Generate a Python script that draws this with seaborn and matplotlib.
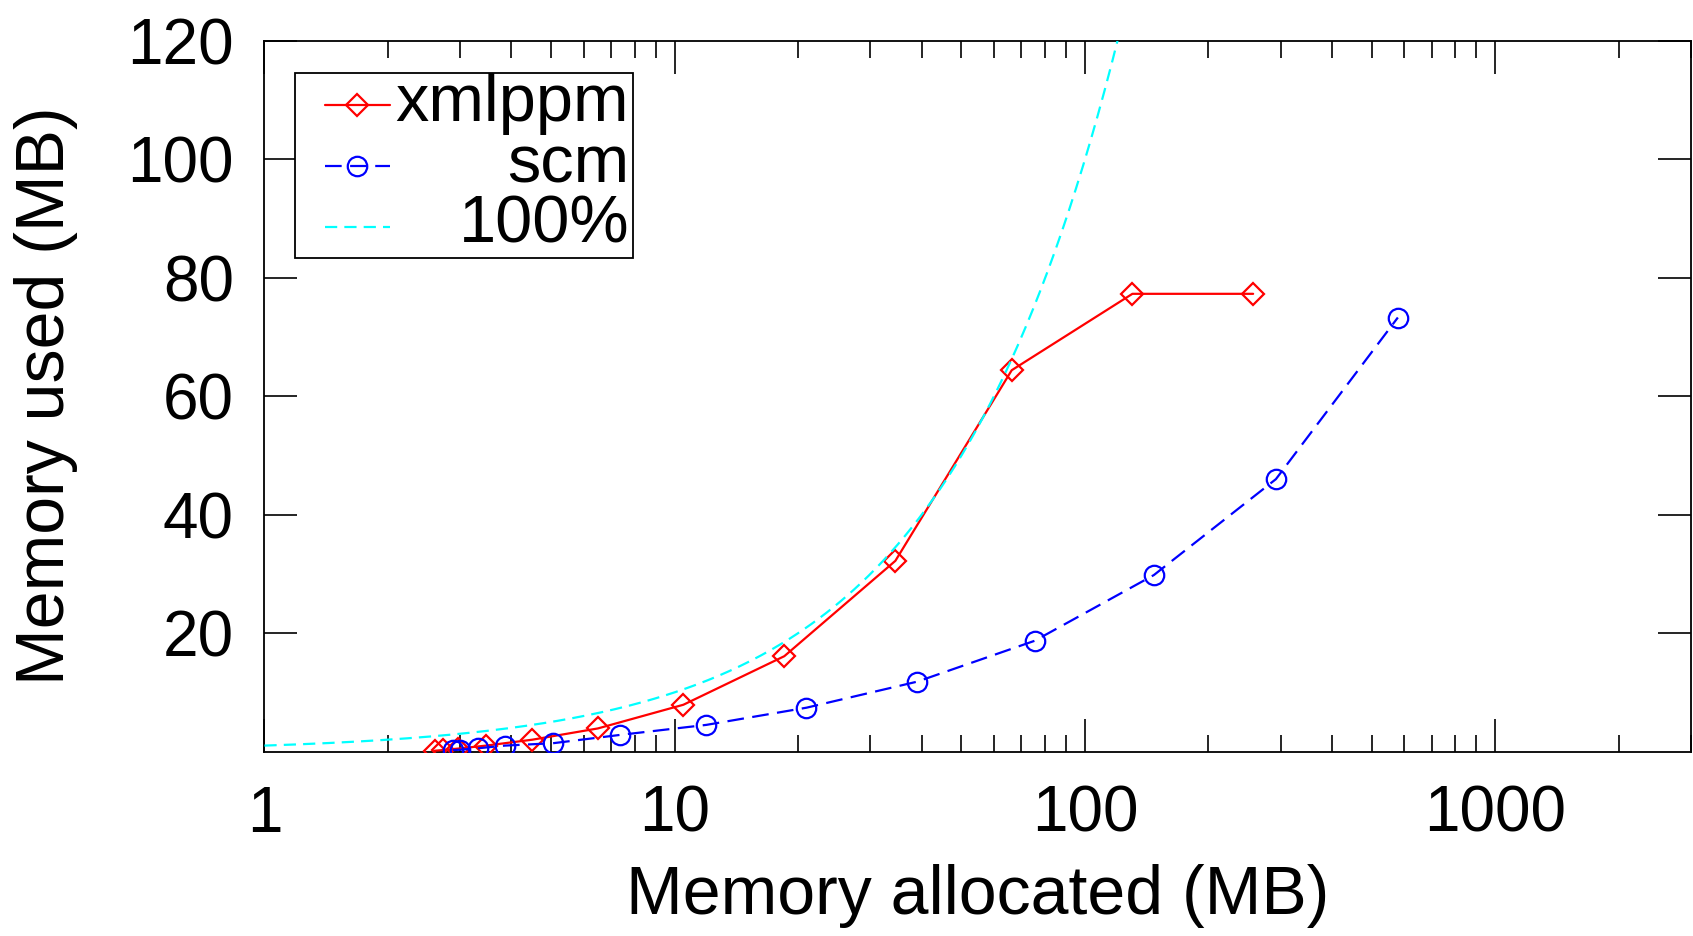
import numpy as np
import pandas as pd
import seaborn as sns
import matplotlib.pyplot as plt
from matplotlib.ticker import LogLocator, NullFormatter, FixedLocator
from matplotlib.patches import Rectangle
from matplotlib.lines import Line2D

# values
xmlppm_alloc = [2.6, 2.72, 2.97, 3.47, 4.5, 6.5, 10.5, 18.5, 34.5, 66.3, 130.5, 257]
xmlppm_used = [0.13, 0.25, 0.5, 1.0, 2.0, 3.9, 7.9, 16.1, 32.2, 64.4, 77.3, 77.3]

scm_alloc = [2.88, 3.0, 3.32, 3.86, 5.05, 7.35, 11.95, 20.95, 39.0, 75.4, 147.2, 292, 579]
scm_used = [0.25, 0.3, 0.55, 1.0, 1.4, 2.8, 4.5, 7.4, 11.8, 18.7, 29.8, 46.0, 73.3]

x_ticks = [1, 10, 100, 1000]
x_tick_labels = ["1", "10", "100", "1000"]
y_ticks = [20, 40, 60, 80, 100, 120]

legend_labels = ["xmlppm", "scm", "100%"]

# 100% reference: used == allocated
ref_alloc = np.logspace(0, np.log10(3000), 400)
ref_used = ref_alloc

sns.set_style("white")
plt.rcParams['font.family'] = ['Liberation Sans', 'DejaVu Sans']
plt.rcParams['text.color'] = 'black'
plt.rcParams['xtick.color'] = 'black'
plt.rcParams['ytick.color'] = 'black'
plt.rcParams['xtick.labelcolor'] = 'black'
plt.rcParams['ytick.labelcolor'] = 'black'

RED = "#ff0000"
BLUE = "#0000ff"
CYAN = "#00ffff"
LW = 1.6

fig = plt.figure(figsize=(16.93, 9.36), dpi=100)
ax = fig.add_axes([0.1562, 0.1971, 0.8426, 0.7591])

df_x = pd.DataFrame({"alloc": xmlppm_alloc, "used": xmlppm_used})
df_s = pd.DataFrame({"alloc": scm_alloc, "used": scm_used})
df_r = pd.DataFrame({"alloc": ref_alloc, "used": ref_used})

sns.lineplot(data=df_x, x="alloc", y="used", ax=ax, color=RED, linewidth=LW,
             marker="D", markersize=11.5, markerfacecolor="none",
             markeredgecolor=RED, markeredgewidth=LW, errorbar=None, zorder=3)
sns.lineplot(data=df_s, x="alloc", y="used", ax=ax, color=BLUE, linewidth=LW,
             linestyle=(0, (7.5, 3.8)), marker="o", markersize=14,
             markerfacecolor="none", markeredgecolor=BLUE, markeredgewidth=LW,
             errorbar=None, zorder=4)
sns.lineplot(data=df_r, x="alloc", y="used", ax=ax, color=CYAN, linewidth=LW,
             linestyle=(0, (5.5, 3.2)), errorbar=None, zorder=5)

ax.set_xscale("log")
ax.set_xlim(1, 3000)
ax.set_ylim(0, 120)

ax.xaxis.set_major_locator(FixedLocator(x_ticks))
ax.set_xticklabels(x_tick_labels)
ax.xaxis.set_minor_locator(LogLocator(base=10, subs=np.arange(2, 10)))
ax.xaxis.set_minor_formatter(NullFormatter())
ax.set_yticks(y_ticks)

ax.tick_params(which="both", direction="in", top=True, right=True,
               bottom=True, left=True, color="black", width=1.2,
               labelsize=46, labelcolor="black")
ax.tick_params(which="major", length=24)
ax.tick_params(which="minor", length=12)
ax.tick_params(axis="x", pad=24)
ax.tick_params(axis="y", pad=22)

for s in ax.spines.values():
    s.set_color("black")
    s.set_linewidth(1.3)

ax.set_xlabel("")
ax.set_ylabel("")
fig.text(0.5775, 0.024, "Memory allocated (MB)", ha="center", va="baseline",
         fontsize=49, color="black")
fig.text(0.027, 0.577, "Memory used (MB)", ha="center", va="center",
         rotation=90, fontsize=49, color="black")

# gnuplot-style key: samples on the left, labels right-aligned
ax.add_patch(Rectangle((0.0214, 0.695), 0.2371, 0.2595, transform=ax.transAxes,
                       facecolor="white", edgecolor="black", linewidth=1.3, zorder=6))
rows = [0.910, 0.824, 0.7386]
styles = [
    dict(color=RED, marker="D", markersize=11.5, linestyle="-"),
    dict(color=BLUE, marker="o", markersize=14, linestyle=(0, (7.5, 3.8))),
    dict(color=CYAN, marker=None, linestyle=(0, (5.5, 3.2))),
]
for yy, st, lab in zip(rows, styles, legend_labels):
    ax.add_line(Line2D([0.0424, 0.0880], [yy, yy], transform=ax.transAxes,
                       color=st["color"], linewidth=LW, linestyle=st["linestyle"],
                       zorder=7, clip_on=False))
    if st["marker"]:
        ax.add_line(Line2D([0.0651], [yy], transform=ax.transAxes,
                           marker=st["marker"], markersize=st["markersize"],
                           markerfacecolor="none", markeredgecolor=st["color"],
                           markeredgewidth=LW, linestyle="none", zorder=7, clip_on=False))
    ax.text(0.2557, yy - 0.0225, lab, transform=ax.transAxes, ha="right",
            va="baseline", fontsize=48, color="black", zorder=8)

fig.savefig("out.png", dpi=100)
